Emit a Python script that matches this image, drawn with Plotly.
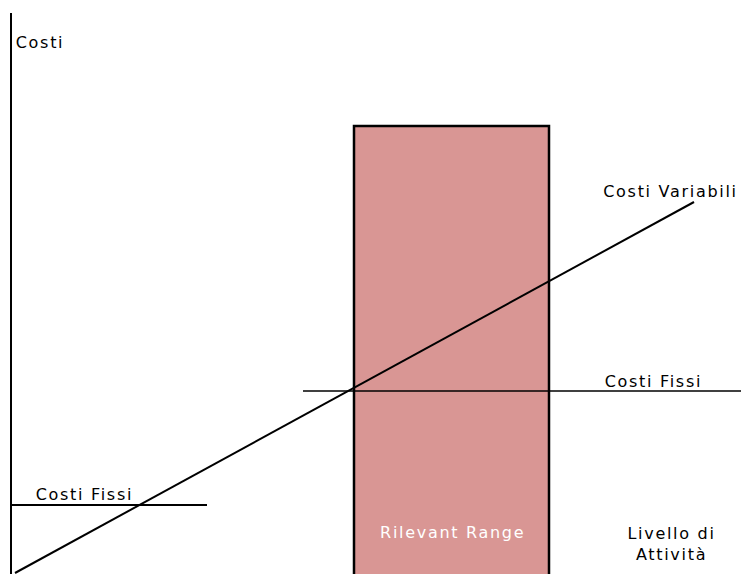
import plotly.graph_objects as go

# Data (chart coordinates: x = activity level, y = cost; origin bottom-left)
axis_x = [11, 11]
axis_y = [0, 561]

variable_x = [15, 694]
variable_y = [1, 372]

fixed_left_x = [11, 207]
fixed_left_y = [69, 69]

fixed_right_x = [303, 741]
fixed_right_y = [183, 183]

range_x = [354, 354, 549, 549]
range_y = [0, 448, 448, 0]

labels = ["Costi", "Costi Fissi", "Costi Fissi", "Costi Variabili", "Rilevant Range", "Livello di<br>Attività"]

W, H = 741, 574
BLACK = "#000000"
PINK = "#D99694"
FONT = "DejaVu Sans"

fig = go.Figure()

fig.add_trace(go.Scatter(x=range_x, y=range_y, fill="toself", fillcolor=PINK,
                         mode="lines", line=dict(width=0, color=PINK), hoverinfo="skip"))
fig.add_trace(go.Scatter(x=range_x, y=range_y, mode="lines",
                         line=dict(color=BLACK, width=2.5), hoverinfo="skip"))
fig.add_trace(go.Scatter(x=axis_x, y=axis_y, mode="lines",
                         line=dict(color=BLACK, width=2), hoverinfo="skip"))
fig.add_trace(go.Scatter(x=fixed_left_x, y=fixed_left_y, mode="lines",
                         line=dict(color=BLACK, width=2), hoverinfo="skip"))
fig.add_trace(go.Scatter(x=fixed_right_x, y=fixed_right_y, mode="lines",
                         line=dict(color=BLACK, width=1.5), hoverinfo="skip"))
fig.add_trace(go.Scatter(x=variable_x, y=variable_y, mode="lines",
                         line=dict(color=BLACK, width=2), hoverinfo="skip"))

ann = [
    (40, H - 42, labels[0], BLACK),
    (84, H - 494, labels[1], BLACK),
    (653, H - 381, labels[2], BLACK),
    (670, H - 191, labels[3], BLACK),
    (452, H - 532, labels[4], "#FFFFFF"),
    (671, H - 544, labels[5], BLACK),
]
for x, y, t, c in ann:
    fig.add_annotation(x=x, y=y, text=t, showarrow=False, xanchor="center", yanchor="middle",
                       font=dict(family=FONT, size=16, color=c), align="center")

fig.update_layout(
    width=W, height=H, margin=dict(l=0, r=0, t=0, b=0),
    paper_bgcolor="white", plot_bgcolor="white", showlegend=False,
    xaxis=dict(range=[0, W], visible=False, fixedrange=True),
    yaxis=dict(range=[0, H], visible=False, fixedrange=True),
)

spacing_js = (
    "document.querySelectorAll('.annotation-text').forEach(function(e){"
    "e.style.letterSpacing='1.7px';});"
)
fig.write_html("out.html", post_script=spacing_js)
